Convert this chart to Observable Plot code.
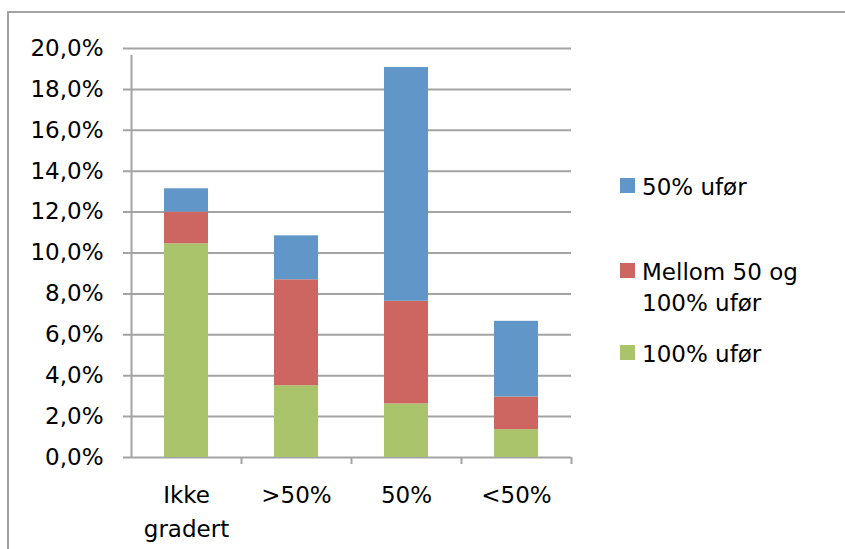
<!DOCTYPE html>
<html>
<head>
<meta charset="utf-8">
<script src="https://cdn.jsdelivr.net/npm/d3@7"></script>
<script src="https://cdn.jsdelivr.net/npm/@observablehq/plot@0.6"></script>
<style>
  html, body { margin: 0; padding: 0; background: #fff; }
  #wrap { position: relative; width: 845px; height: 549px; overflow: hidden; font-family: "DejaVu Sans", sans-serif; }
  #frame { position: absolute; left: 7px; top: 11px; width: 900px; height: 600px; border-left: 2px solid #a3a3a3; border-top: 2px solid #a3a3a3; }
  #legend { position: absolute; left: 620px; top: 0; font-size: 23px; color: #000; }
  .item { position: absolute; left: 0; white-space: nowrap; }
  .sw { position: absolute; left: 0; width: 15px; height: 15px; }
  .lbl { position: absolute; left: 22px; line-height: 31px; }
  #chart { position: absolute; left: 0; top: 0; }
</style>
</head>
<body>
<div id="wrap">
  <div id="frame"></div>
  <div id="chart"></div>
  <div id="legend"></div>
</div>
<script>
const categories = ["Ikke\ngradert", ">50%", "50%", "<50%"];
const series = ["100% ufør", "Mellom 50 og 100% ufør", "50% ufør"];
const legendLabels = ["50% ufør", "Mellom 50 og\n100% ufør", "100% ufør"];
const colors = ["#A9C46B", "#CD6560", "#6197C8"];
const full100 = [0.1045, 0.0351, 0.0262, 0.0136];
const mellom = [0.0155, 0.0518, 0.0502, 0.0160];
const half50 = [0.0114, 0.0215, 0.1143, 0.0370];
const yTicks = [0, 0.02, 0.04, 0.06, 0.08, 0.10, 0.12, 0.14, 0.16, 0.18, 0.20];

const values = [full100, mellom, half50];
const data = [];
series.forEach((s, si) => categories.forEach((c, ci) => data.push({cat: c, series: s, value: values[si][ci]})));

const W = 845, H = 549, mL = 131, mR = 274, mT = 48, mB = 92;
const step = (W - mL - mR) / categories.length;
const fmt = d => d3.format(".1%")(d).replace(".", ",");
const gridColor = "#a3a3a3";

const plot = Plot.plot({
  width: W, height: H,
  marginLeft: mL, marginRight: mR, marginTop: mT, marginBottom: mB,
  style: {fontFamily: "DejaVu Sans, sans-serif", fontSize: "23px", color: "#000", background: "transparent"},
  x: {domain: categories, paddingInner: 0.6, paddingOuter: 0.3, axis: null, label: null},
  y: {domain: [0, 0.2], axis: null, label: null},
  color: {domain: series, range: colors},
  marks: [
    Plot.ruleY(yTicks, {y: d => d, stroke: gridColor, strokeWidth: 2, insetLeft: -8}),
    Plot.ruleX([categories[0]], {x: d => d, dx: -step / 2, y1: 0, y2: 0.2, stroke: gridColor, strokeWidth: 2, insetBottom: -7}),
    Plot.ruleX(categories.slice(1), {x: d => d, dx: -step / 2, y1: 0, y2: 0, stroke: gridColor, strokeWidth: 2, insetBottom: -7}),
    Plot.ruleX([categories[categories.length - 1]], {x: d => d, dx: step / 2, y1: 0, y2: 0, stroke: gridColor, strokeWidth: 2, insetBottom: -7}),
    Plot.barY(data, Plot.stackY({x: "cat", y: "value", fill: "series", order: series})),
    Plot.axisY(yTicks, {tickSize: 0, tickPadding: 28, tickFormat: fmt, fontSize: 23, label: null}),
    Plot.axisX({tickSize: 0, tickPadding: 22, fontSize: 23, lineHeight: 1.45, label: null})
  ]
});
document.getElementById("chart").appendChild(plot);

const legend = document.getElementById("legend");
const tops = [178, 263, 345];
const colorsRev = [colors[2], colors[1], colors[0]];
legendLabels.forEach((t, i) => {
  const item = document.createElement("div");
  item.className = "item";
  item.style.top = tops[i] + "px";
  const sw = document.createElement("div");
  sw.className = "sw";
  sw.style.background = colorsRev[i];
  const lb = document.createElement("div");
  lb.className = "lbl";
  lb.style.top = "-6px";
  lb.innerHTML = t.replace("\n", "<br>");
  item.appendChild(sw);
  item.appendChild(lb);
  legend.appendChild(item);
});
</script>
</body>
</html>
